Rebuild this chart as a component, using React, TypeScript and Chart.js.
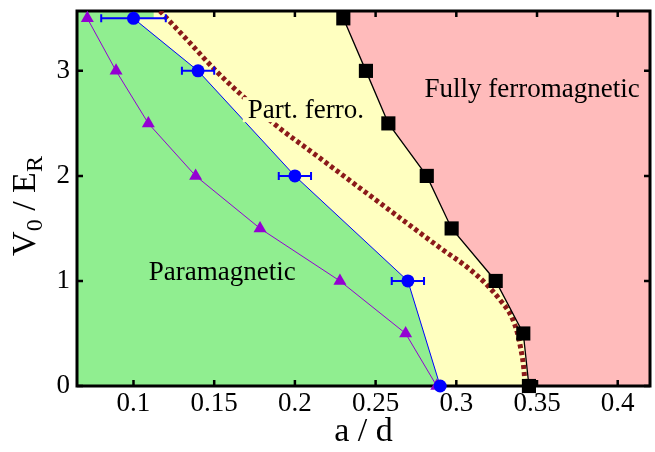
import React, { useEffect, useRef } from 'react';
import { Chart, registerables } from 'chart.js';

Chart.register(...registerables);

const FAMILY = "'Liberation Serif', 'Times New Roman', Times, serif";

// Axis ranges and ticks
const X_MIN = 0.065;
const X_MAX = 0.42;
const Y_MIN = 0;
const Y_MAX = 3.57;
const xTicks = [0.1, 0.15, 0.2, 0.25, 0.3, 0.35, 0.4];
const xTickLabels = ['0.1', '0.15', '0.2', '0.25', '0.3', '0.35', '0.4'];
const yTicks = [0, 1, 2, 3];
const yTickLabels = ['0', '1', '2', '3'];

// Purple triangles
const triX = [0.0714, 0.0892, 0.1092, 0.1385, 0.1784, 0.2279, 0.2686, 0.2879];
const triY = [3.5, 3.0, 2.5, 2.0, 1.5, 1.0, 0.5, 0.0];

// Blue circles with horizontal error bars
const circX = [0.1, 0.14, 0.2, 0.27, 0.29];
const circY = [3.5, 3.0, 2.0, 1.0, 0.0];
const circErr = [0.02, 0.01, 0.01, 0.01, 0.0];

// Black squares
const sqX = [0.23, 0.244, 0.2579, 0.2817, 0.2971, 0.3244, 0.3415, 0.345];
const sqY = [3.5, 3.0, 2.5, 2.0, 1.5, 1.0, 0.5, 0.0];

// Dotted dark-red curve
const curveX = [0.1164, 0.1338, 0.1511, 0.1685, 0.1864, 0.2137, 0.2385, 0.2651, 0.2918, 0.3066, 0.3178, 0.3271, 0.3342, 0.3379, 0.3401, 0.3417, 0.3427];
const curveY = [3.57, 3.286, 3.0, 2.748, 2.505, 2.19, 1.905, 1.6, 1.295, 1.133, 0.981, 0.819, 0.66, 0.502, 0.343, 0.184, 0.0];

// Region boundary corners (beyond the data points)
const paraCornerX = [0.1125, 0.1125];
const paraCornerY = [Y_MAX, 3.5];
const ferroCornerX = [0.2258];
const ferroCornerY = [Y_MAX];

// Region labels
const regionNames = ['Paramagnetic', 'Part. ferro.', 'Fully ferromagnetic'];
const regionLabelX = [0.155, 0.2068, 0.347];
const regionLabelY = [1.01, 2.55, 2.755];

const GREEN = '#90ee90';
const YELLOW = '#ffffc0';
const PINK = '#ffbbbb';
const PURPLE = '#9400d3';
const BLUE = '#0000ff';
const MAROON = '#8b1a1a';
const regionLabelBox = [null, YELLOW, null];

const pts = (xs: number[], ys: number[]) => xs.map((x, i) => ({ x, y: ys[i] }));

const phasePlugin = {
  id: 'phasePlugin',
  beforeDatasetsDraw(chart: any) {
    const { ctx, chartArea: a, scales } = chart;
    const x = scales.x, y = scales.y;
    const px = (v: number) => x.getPixelForValue(v);
    const py = (v: number) => y.getPixelForValue(v);
    ctx.save();
    ctx.beginPath();
    ctx.rect(a.left, a.top, a.right - a.left, a.bottom - a.top);
    ctx.clip();
    ctx.fillStyle = YELLOW;
    ctx.fillRect(a.left, a.top, a.right - a.left, a.bottom - a.top);

    const poly = (xs: number[], ys: number[], color: string) => {
      ctx.beginPath();
      xs.forEach((xv, i) => {
        const X = px(xv), Y = py(ys[i]);
        if (i === 0) ctx.moveTo(X, Y); else ctx.lineTo(X, Y);
      });
      ctx.closePath();
      ctx.fillStyle = color;
      ctx.fill();
    };
    // paramagnetic region
    poly(
      [X_MIN, X_MIN, ...paraCornerX, ...circX],
      [Y_MIN, Y_MAX, ...paraCornerY, ...circY],
      GREEN
    );
    // fully ferromagnetic region
    poly(
      [...ferroCornerX, ...sqX, X_MAX, X_MAX],
      [...ferroCornerY, ...sqY, Y_MIN, Y_MAX],
      PINK
    );
    ctx.restore();

    // frame + inward ticks on all four sides
    ctx.save();
    ctx.strokeStyle = '#000';
    ctx.lineWidth = 3;
    ctx.strokeRect(a.left, a.top, a.right - a.left, a.bottom - a.top);
    ctx.lineWidth = 2.5;
    const tl = 6;
    ctx.beginPath();
    x.ticks.forEach((t: any) => {
      const X = px(t.value);
      ctx.moveTo(X, a.bottom); ctx.lineTo(X, a.bottom - tl);
      ctx.moveTo(X, a.top); ctx.lineTo(X, a.top + tl);
    });
    y.ticks.forEach((t: any) => {
      const Y = py(t.value);
      ctx.moveTo(a.left, Y); ctx.lineTo(a.left + tl, Y);
      ctx.moveTo(a.right, Y); ctx.lineTo(a.right - tl, Y);
    });
    ctx.stroke();
    ctx.restore();
  },
  afterDatasetsDraw(chart: any) {
    const { ctx, scales } = chart;
    const x = scales.x, y = scales.y;
    const px = (v: number) => x.getPixelForValue(v);
    const py = (v: number) => y.getPixelForValue(v);
    ctx.save();
    // horizontal error bars
    ctx.strokeStyle = BLUE;
    ctx.lineWidth = 2;
    ctx.beginPath();
    circX.forEach((xv, i) => {
      const e = circErr[i];
      if (!e) return;
      const Y = py(circY[i]);
      const L = px(xv - e), R = px(xv + e);
      ctx.moveTo(L, Y); ctx.lineTo(R, Y);
      ctx.moveTo(L, Y - 4); ctx.lineTo(L, Y + 4);
      ctx.moveTo(R, Y - 4); ctx.lineTo(R, Y + 4);
    });
    ctx.stroke();
    // region labels
    ctx.font = `27px ${FAMILY}`;
    ctx.textAlign = 'center';
    ctx.textBaseline = 'alphabetic';
    regionNames.forEach((t, i) => {
      const cx = px(regionLabelX[i]);
      const by = py(regionLabelY[i]);
      const bg = regionLabelBox[i];
      if (bg) {
        const w = ctx.measureText(t).width;
        ctx.fillStyle = bg;
        ctx.fillRect(cx - w / 2 - 5, by - 21, w + 10, 25);
      }
      ctx.fillStyle = '#000';
      ctx.fillText(t, cx, by);
    });
    ctx.restore();
  },
  afterDraw(chart: any) {
    // y-axis title with subscripts: V_0 / E_R
    const { ctx } = chart;
    ctx.save();
    ctx.translate(35, 206);
    ctx.rotate(-Math.PI / 2);
    ctx.fillStyle = '#000';
    ctx.textBaseline = 'alphabetic';
    ctx.textAlign = 'left';
    const parts: [string, number, number][] = [
      ['V', 34, 0], ['0', 24, 7], [' / ', 34, 0], ['E', 34, 0], ['R', 24, 7],
    ];
    let total = 0;
    const widths = parts.map(([t, s]) => {
      ctx.font = `${s}px ${FAMILY}`;
      const w = ctx.measureText(t).width;
      total += w;
      return w;
    });
    let cur = -total / 2;
    parts.forEach(([t, s, off], i) => {
      ctx.font = `${s}px ${FAMILY}`;
      ctx.fillText(t, cur, off);
      cur += widths[i];
    });
    ctx.restore();
  },
};

const zeroPad = (s: any) => {
  s.paddingTop = 0;
  s.paddingBottom = 0;
  s.paddingLeft = 0;
  s.paddingRight = 0;
};

export default function App() {
  const ref = useRef<HTMLCanvasElement>(null);
  useEffect(() => {
    const chart = new Chart(ref.current as HTMLCanvasElement, {
      type: 'scatter',
      data: {
        datasets: [
          {
            label: 'squares', data: pts(sqX, sqY), showLine: true, borderColor: '#000', borderWidth: 1.3,
            backgroundColor: '#000', pointStyle: 'rect', pointRadius: 10, pointBorderWidth: 0, order: 1, clip: false,
          },
          {
            label: 'circles', data: pts(circX, circY), showLine: true, borderColor: BLUE, borderWidth: 1,
            backgroundColor: BLUE, pointStyle: 'circle', pointRadius: 6.5, pointBorderWidth: 0, order: 2, clip: false,
          },
          {
            label: 'triangles', data: pts(triX, triY), showLine: true, borderColor: PURPLE, borderWidth: 1,
            backgroundColor: PURPLE, pointStyle: 'triangle', pointRadius: 7.5, pointBorderWidth: 0, order: 3, clip: false,
          },
          {
            label: 'curve', data: pts(curveX, curveY), showLine: true, borderColor: MAROON, borderWidth: 5,
            borderDash: [4, 3], pointRadius: 0, cubicInterpolationMode: 'monotone', order: 4,
          },
        ],
      } as any,
      options: {
        responsive: true,
        maintainAspectRatio: false,
        animation: false,
        layout: { autoPadding: false, padding: { top: 11, right: 5, left: 0, bottom: 0 } },
        plugins: { legend: { display: false }, tooltip: { enabled: false } },
        events: [],
        scales: {
          x: {
            type: 'linear', min: X_MIN, max: X_MAX,
            afterBuildTicks: (s: any) => { s.ticks = xTicks.map((v) => ({ value: v })); },
            afterFit: (s: any) => { s.height = 66; zeroPad(s); },
            ticks: {
              font: { family: FAMILY, size: 27 }, color: '#000', padding: 2, maxRotation: 0, autoSkip: false,
              callback: (_v: any, i: number) => xTickLabels[i],
            },
            grid: { display: false, drawTicks: false },
            border: { display: false },
            title: { display: true, text: 'a / d', font: { family: FAMILY, size: 34 }, color: '#000', padding: { top: 0, bottom: 0 } },
          },
          y: {
            type: 'linear', min: Y_MIN, max: Y_MAX,
            afterBuildTicks: (s: any) => { s.ticks = yTicks.map((v) => ({ value: v })); },
            afterFit: (s: any) => { s.width = 77; zeroPad(s); },
            ticks: {
              font: { family: FAMILY, size: 27 }, color: '#000', padding: 7, autoSkip: false,
              callback: (_v: any, i: number) => yTickLabels[i],
            },
            grid: { display: false, drawTicks: false },
            border: { display: false },
          },
        },
      } as any,
      plugins: [phasePlugin],
    });
    return () => chart.destroy();
  }, []);
  return (
    <div style={{ position: 'fixed', left: 0, top: 0, width: 655, height: 452, background: '#fff' }}>
      <canvas ref={ref} />
    </div>
  );
}
